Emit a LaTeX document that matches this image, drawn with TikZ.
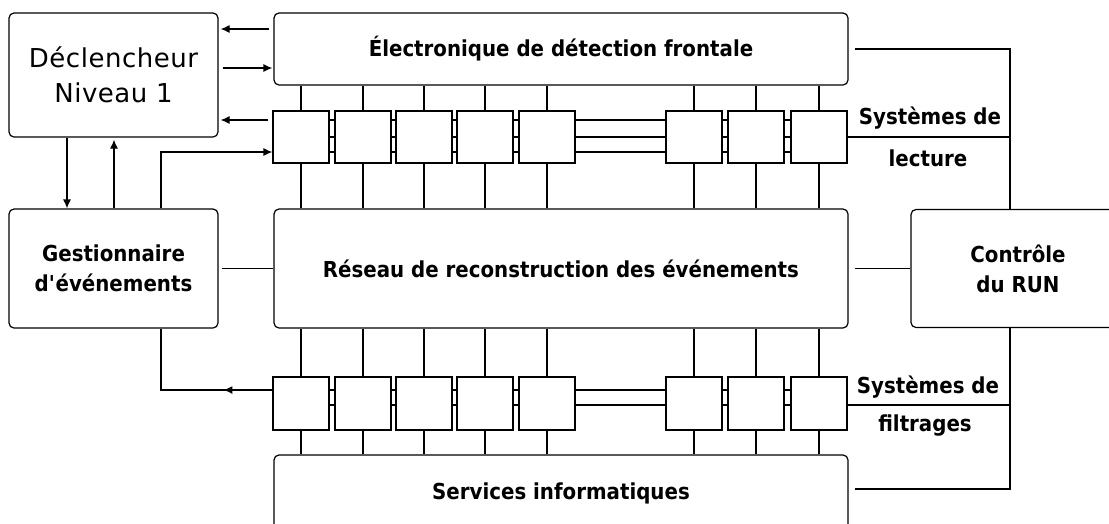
\documentclass[tikz,border=0pt]{standalone}
\usepackage{fontspec}
\setmainfont{DejaVu Sans}[FakeStretch=0.9]
\newfontfamily\declfont{DejaVu Sans}[LetterSpace=2]
\usepackage{tikz}
\usetikzlibrary{positioning, arrows.meta, calc}

\begin{document}
\begin{tikzpicture}[x=1pt, y=-1pt, line width=1.2pt,
    >={Latex[length=9pt,width=8pt]},
    bloc/.style={draw, rounded corners=5pt, align=center, inner sep=0pt,
                 font=\bfseries\fontsize{22}{30}\selectfont},
    cellule/.style={draw, minimum width=56pt, minimum height=52pt, inner sep=0pt},
    etiquette/.style={font=\bfseries\fontsize{22}{24}\selectfont, inner sep=0pt}]
  \useasboundingbox (0,0) rectangle (1109,523);
  \clip (0,0) rectangle (1109,523);

  \node[bloc, minimum width=209pt, minimum height=124pt,
        font=\declfont\fontsize{26}{35}\selectfont] (decl) at (113.5,75) {Déclencheur\\Niveau 1};
  \node[bloc, minimum width=209pt, minimum height=119pt] (gest) at (113.5,268.5)
        {Gestionnaire\\d\textquotesingle événements};
  \node[bloc, minimum width=574pt, minimum height=72pt] (fe) at (561,49)
        {Électronique de détection frontale};
  \node[bloc, minimum width=574pt, minimum height=119pt] (reseau) at (561,268.5)
        {Réseau de reconstruction des événements};
  \node[bloc, minimum width=574pt, minimum height=76pt] (info) at (561,493)
        {Services informatiques};
  \node[bloc, minimum width=214pt, minimum height=118pt] (run) at (1018,268.5)
        {Contrôle\\du RUN};

  % cartes de lecture et de filtrage
  \foreach \n/\x in {1/301,2/363,3/424,4/485,5/547,6/694,7/756,8/819} {
    \node[cellule] (l\n) at (\x,137) {};
    \node[cellule, minimum height=53pt] (f\n) at (\x,403.5) {};
    \draw (l\n.north) -- (l\n.north |- fe.south);
    \draw (l\n.south) -- (l\n.south |- reseau.north);
    \draw (f\n.north) -- (f\n.north |- reseau.south);
    \draw (f\n.south) -- (f\n.south |- info.north);
  }
  \foreach \a/\b in {1/2,2/3,3/4,4/5,5/6,6/7,7/8} {
    \foreach \dy in {17,0,-15}
      \draw ([yshift=\dy pt]l\a.east) -- ([yshift=\dy pt]l\b.west);
    \foreach \dy in {13.5,-1.5}
      \draw ([yshift=\dy pt]f\a.east) -- ([yshift=\dy pt]f\b.west);
  }

  \node[etiquette] (lect1) at (930,118) {Systèmes de};
  \node[etiquette] (lect2) at (928,158) {lecture};
  \node[etiquette] (filt1) at (928,387) {Systèmes de};
  \node[etiquette] (filt2) at (925,426) {filtrages};

  % bus de controle
  \coordinate (bus) at (1010,268);
  \draw ([xshift=6pt]fe.east) -| (bus |- run.north);
  \draw (l8.east) -- (l8.east -| bus);
  \draw ([yshift=-1.5pt]f8.east) -- ([yshift=-1.5pt]f8.east -| bus);
  \draw (bus |- run.south) |- ([xshift=6pt, yshift=4pt]info.east);
  \draw ([xshift=6pt]reseau.east) -- (run.west);
  \draw ([xshift=3pt]gest.east) -- (reseau.west);

  % declenchement
  \coordinate (cd) at (67,0);
  \coordinate (cu) at (114,0);
  \coordinate (cg) at (161,0);
  \draw[->, shorten <=4pt, shorten >=2pt] ([yshift=20pt]fe.west) -- ([yshift=20pt]fe.west -| decl.east);
  \draw[->, shorten <=4pt, shorten >=1pt] ([yshift=-19pt]fe.west -| decl.east) -- ([yshift=-19pt]fe.west);
  \draw[->, shorten <=4pt, shorten >=2pt] ([yshift=17pt]l1.west) -- ([yshift=17pt]l1.west -| decl.east);
  \draw[->] (gest.north -| cg) |- ([yshift=-15pt]l1.west);
  \draw[->] (decl.south -| cd) -- (gest.north -| cd);
  \draw[->, shorten >=2pt] (gest.north -| cu) -- (decl.south -| cu);
  \draw (gest.south -| cg) |- ([yshift=13.5pt]f1.west);
  \draw[->] ([yshift=13.5pt]f1.west) -- ++(-49,0);
\end{tikzpicture}
\end{document}
